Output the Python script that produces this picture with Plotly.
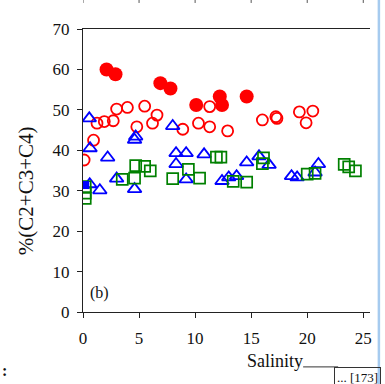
import plotly.graph_objects as go

# Salinity vs %(C2+C3+C4), panel (b)
red_open_x = [0.1, 0.94, 1.25, 1.9, 2.7, 3.0, 3.96, 4.8, 5.5, 6.2, 6.6, 8.9, 10.3, 11.3, 11.3,
              12.9, 16.0, 17.2, 17.3, 19.3, 20.5, 19.9]
red_open_y = [37.6, 42.5, 46.7, 47.1, 47.3, 50.2, 50.6, 45.8, 50.9, 46.7, 48.7, 45.2, 46.7, 45.8, 50.8,
              44.8, 47.5, 48.3, 47.9, 49.5, 49.7, 46.8]

red_fill_x = [2.1, 2.9, 6.9, 7.8, 10.1, 12.2, 12.4, 14.6]
red_fill_y = [60.0, 58.8, 56.6, 55.3, 51.2, 53.3, 51.2, 53.3]

blue_tri_x = [0.56, 0.63, 2.2, 4.7, 4.6, 8.0, 8.3, 9.2, 8.3, 10.8, 3.0, 0.6, 1.5, 4.6, 9.2, 12.4,
              13.0, 13.7, 14.6, 15.7, 16.6, 18.6, 19.1, 21.0, 20.7]
blue_tri_y = [47.9, 40.5, 38.2, 43.4, 42.6, 46.0, 39.3, 39.3, 36.6, 39.0, 33.0, 31.6, 30.1, 30.4, 32.8, 32.4,
              33.3, 33.6, 37.0, 38.5, 36.4, 33.6, 33.3, 36.6, 34.5]

green_sq_x = [4.7, 5.5, 6.0, 3.5, 4.6, 8.0, 9.4, 10.4, 11.9, 12.3, 13.4, 14.6, 16.1, 16.0, 20.0, 20.7,
              23.3, 23.7, 24.3, 0.2, 0.2, 0.2]
green_sq_y = [36.2, 36.0, 34.9, 32.8, 33.1, 33.0, 35.3, 33.1, 38.3, 38.3, 32.3, 32.1, 38.1, 36.7, 34.1, 34.3,
              36.5, 35.9, 34.9, 31.0, 29.4, 28.1]

blue_fill_x = [0.2]
blue_fill_y = [31.4]

x_ticks = [0, 5, 10, 15, 20, 25]
y_ticks = [0, 10, 20, 30, 40, 50, 60, 70]

RED, BLUE, GREEN = "#ff0000", "#0000ff", "#008000"
FONT = "Liberation Serif, Times New Roman, serif"

fig = go.Figure()
fig.add_trace(go.Scatter(x=red_open_x, y=red_open_y, mode="markers",
                         marker=dict(symbol="circle-open", size=11, color=RED, line=dict(width=1.8, color=RED))))
fig.add_trace(go.Scatter(x=red_fill_x, y=red_fill_y, mode="markers",
                         marker=dict(symbol="circle", size=14, color=RED)))
fig.add_trace(go.Scatter(x=blue_tri_x, y=blue_tri_y, mode="markers",
                         marker=dict(symbol="triangle-up-open", size=12, color=BLUE, line=dict(width=1.8, color=BLUE))))
fig.add_trace(go.Scatter(x=green_sq_x, y=green_sq_y, mode="markers",
                         marker=dict(symbol="square-open", size=11, color=GREEN, line=dict(width=1.7, color=GREEN))))
fig.add_trace(go.Scatter(x=blue_fill_x, y=blue_fill_y, mode="markers",
                         marker=dict(symbol="square", size=8, color=BLUE)))

axis_common = dict(showgrid=False, zeroline=False, showline=True, linecolor="#222", linewidth=1,
                   ticks="outside", tickcolor="#222", ticklen=5, tickwidth=1,
                   tickfont=dict(family=FONT, size=17, color="#111"))

fig.update_xaxes(range=[0, 25.6], tickvals=x_ticks, mirror=True, ticklabelstandoff=6, **axis_common)
fig.update_yaxes(range=[0, 70], tickvals=y_ticks, ticklabelstandoff=4, **axis_common)


def note(text, x, y, size, xref="paper", yref="paper", **kw):
    kw.setdefault("xanchor", "center")
    kw.setdefault("yanchor", "middle")
    return dict(text=text, x=x, y=y, xref=xref, yref=yref, showarrow=False,
                font=dict(family=FONT, size=size, color="#111"), **kw)


annotations = [
    note("(b)", 0.45, 4.7, 16, xref="x", yref="y", xanchor="left"),
    note("%(C2+C3+C4)", -0.199, 0.43, 21, textangle=-90),
    note("Salinity", 0.669, -0.173, 18),
    note("... [173]", 0.958, -0.233, 13, bordercolor="#333", borderwidth=1, borderpad=2),
    note("<b>:</b>", -0.275, -0.208, 16),
    note("0", -0.063, 1.088, 17, yanchor="bottom"),
]

shapes = [
    dict(type="line", xref="paper", yref="paper", x0=0.767, x1=0.889, y0=-0.194, y1=-0.194,
         line=dict(color="#333", width=1)),
    dict(type="line", xref="paper", yref="paper", x0=1.031, x1=1.031, y0=-0.3, y1=1.2,
         line=dict(color="#a6cbef", width=2.5)),
]
# tick marks of the panel above, peeking in at the top edge
for t in x_ticks:
    shapes.append(dict(type="line", xref="x", yref="paper", x0=t, x1=t, y0=1.092, y1=1.12,
                       line=dict(color="#555", width=1)))

fig.update_layout(width=385, height=384, margin=dict(l=83, r=15, t=29, b=72),
                  paper_bgcolor="white", plot_bgcolor="white", showlegend=False,
                  annotations=annotations, shapes=shapes)

fig.write_html("out.html")
